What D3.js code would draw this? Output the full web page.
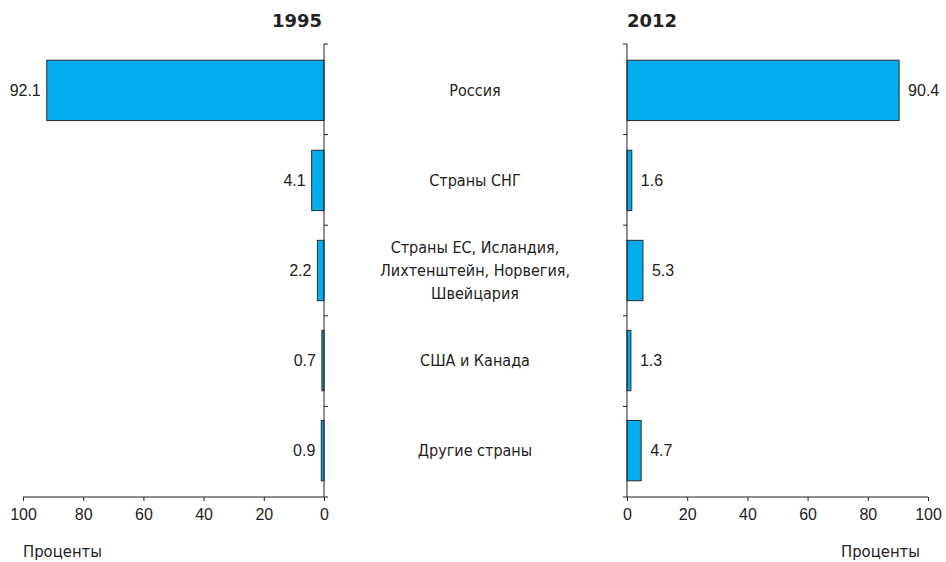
<!DOCTYPE html>
<html lang="ru">
<head>
<meta charset="utf-8">
<title>1995 / 2012</title>
<style>
  body { margin: 0; background: #fff; }
  svg { font-family: "Liberation Sans Narrow", "Liberation Sans", sans-serif; }
  .axis path, .axis line { stroke: #222; }
  .axis text { font-family: "Liberation Sans Narrow", "Liberation Sans", sans-serif; font-size: 16px; fill: #222; }
  .cat { font-family: "DejaVu Sans Condensed", "DejaVu Sans", sans-serif; font-size: 16px; fill: #222; }
  .val { font-family: "Liberation Sans Narrow", "Liberation Sans", sans-serif; font-size: 16px; fill: #222; }
  .title { font-family: "DejaVu Sans", sans-serif; font-weight: bold; font-size: 18px; fill: #222; }
  .unit { font-family: "DejaVu Sans Condensed", "DejaVu Sans", sans-serif; font-size: 16.5px; fill: #222; }
</style>
</head>
<body>
<div id="vis"></div>
<script src="https://d3js.org/d3.v7.min.js"></script>
<script>
var categories = [
    ["Россия"],
    ["Страны СНГ"],
    ["Страны ЕС, Исландия,", "Лихтенштейн, Норвегия,", "Швейцария"],
    ["США и Канада"],
    ["Другие страны"]
];
var values1995 = [92.1, 4.1, 2.2, 0.7, 0.9];
var values2012 = [90.4, 1.6, 5.3, 1.3, 4.7];
var xTicks = [0, 20, 40, 60, 80, 100];
var years = ["1995", "2012"];
var unitLabel = "Проценты";

var width = 946, height = 562;
var yTop = 44, yBottom = 497;

var svg = d3.select('#vis').append('svg')
    .attr('width', width)
    .attr('height', height);

var y = d3.scaleBand()
    .domain(d3.range(categories.length))
    .range([yTop, yBottom])
    .paddingInner(0.33)
    .paddingOuter(0.18);

// band boundaries for the tick marks on the vertical axes
var bounds = d3.range(categories.length + 1).map(function(i) {
    return yTop + i * (yBottom - yTop) / categories.length;
});

var xLeft = d3.scaleLinear().domain([0, 100]).range([324, 23]);
var xRight = d3.scaleLinear().domain([0, 100]).range([627, 928]);

function panel(values, x, side) {
    var g = svg.append('g');

    g.selectAll('.bar')
        .data(values)
        .enter()
        .append('rect')
        .attr('class', 'bar')
        .attr('x', function(d) { return Math.min(x(0), x(d)); })
        .attr('width', function(d) { return Math.abs(x(d) - x(0)); })
        .attr('y', function(d, i) { return y(i); })
        .attr('height', y.bandwidth())
        .attr('fill', '#00adef')
        .attr('stroke', '#2a2a2a')
        .attr('stroke-width', 1);

    g.selectAll('.val')
        .data(values)
        .enter()
        .append('text')
        .attr('class', 'val')
        .attr('x', function(d) { return x(d) + (side === 'left' ? -6 : 9); })
        .attr('y', function(d, i) { return y(i) + y.bandwidth() / 2; })
        .attr('dy', '0.35em')
        .attr('text-anchor', side === 'left' ? 'end' : 'start')
        .text(function(d) { return d.toFixed(1); });

    // vertical axis with ticks at category boundaries
    var dir = side === 'left' ? 1 : -1;
    g.append('line')
        .attr('x1', x(0)).attr('x2', x(0))
        .attr('y1', yTop).attr('y2', yBottom)
        .attr('stroke', '#222');
    g.selectAll('.vtick')
        .data(bounds.slice(0, -1))
        .enter()
        .append('line')
        .attr('class', 'vtick')
        .attr('x1', x(0)).attr('x2', x(0) + dir * 4)
        .attr('y1', function(d) { return d; })
        .attr('y2', function(d) { return d; })
        .attr('stroke', '#222');

    var axis = d3.axisBottom(x).tickValues(xTicks).tickSize(4).tickPadding(8).tickSizeOuter(0);
    var ax = g.append('g')
        .attr('class', 'axis')
        .attr('transform', 'translate(0,' + yBottom + ')')
        .call(axis);
    ax.select('.domain')
        .attr('d', side === 'left'
            ? 'M' + x(100) + ',0H' + (x(0) + 4)
            : 'M' + (x(0) - 4) + ',0H' + x(100));
}

panel(values1995, xLeft, 'left');
panel(values2012, xRight, 'right');

svg.append('text').attr('class', 'title')
    .attr('x', 322).attr('y', 27).attr('text-anchor', 'end').text(years[0]);
svg.append('text').attr('class', 'title')
    .attr('x', 627).attr('y', 27).attr('text-anchor', 'start').text(years[1]);

svg.append('text').attr('class', 'unit')
    .attr('x', 23).attr('y', 557).text(unitLabel);
svg.append('text').attr('class', 'unit')
    .attr('x', 920).attr('y', 557).attr('text-anchor', 'end').text(unitLabel);

var lineH = 23;
var cats = svg.selectAll('.cat')
    .data(categories)
    .enter()
    .append('text')
    .attr('class', 'cat')
    .attr('text-anchor', 'middle')
    .attr('y', function(d, i) { return y(i) + y.bandwidth() / 2 - (d.length - 1) * lineH / 2; });

cats.selectAll('tspan')
    .data(function(d) { return d; })
    .enter()
    .append('tspan')
    .attr('x', 475)
    .attr('dy', function(d, i) { return i === 0 ? '0.35em' : lineH; })
    .text(function(d) { return d; });
</script>
</body>
</html>
